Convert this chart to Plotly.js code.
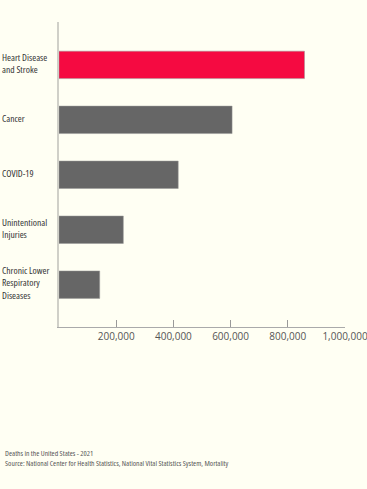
<!DOCTYPE html>
<html><head><meta charset="utf-8">
<script src="https://cdn.plot.ly/plotly-3.0.1.min.js"></script>
<style>html,body{margin:0;padding:0;background:#fffff3;}
.annotation-text{font-stretch:condensed !important;}</style>
</head><body><div id="chart" style="width:367px;height:489px;"></div>
<script>
const categories = ["Heart Disease<br>and Stroke", "Cancer", "COVID-19", "Unintentional<br>Injuries", "Chronic Lower<br>Respiratory<br>Diseases"];
const deaths = [858437, 605213, 416893, 224935, 142342];
const barColors = ["#f50a41", "#666666", "#666666", "#666666", "#666666"];
const tickVals = [200000, 400000, 600000, 800000, 1000000];
const tickText = ["200,000", "400,000", "600,000", "800,000", "1,000,000"];
const footer = "Deaths in the United States - 2021<br>Source: National Center for Health Statistics, National Vital Statistics System, Mortality";

const labelFont = {family: "Open Sans", size: 9.6, color: "#333"};
const annotations = categories.map((c, i) => ({
  xref: "paper", yref: "y", x: -59/286, y: i, yshift: 1.5, text: c, showarrow: false,
  xanchor: "left", yanchor: "middle", align: "left", font: labelFont
}));
annotations.push({
  xref: "paper", yref: "paper", x: -56/286, y: -(457.5-327)/305, text: footer, showarrow: false,
  xanchor: "left", yanchor: "middle", align: "left",
  font: {family: "Open Sans", size: 7.6, color: "#555"}
});

Plotly.newPlot("chart", [{
  type: "bar", orientation: "h", y: categories.map((c, i) => i), x: deaths,
  width: 0.5,
  marker: {color: barColors, line: {color: "#999", width: 0.5}},
  hoverinfo: "none"
}], {
  width: 367, height: 489,
  margin: {l: 59, r: 22, t: 22, b: 162},
  paper_bgcolor: "#fffff3", plot_bgcolor: "#fffff3",
  showlegend: false,
  xaxis: {range: [0, 1000000], tickvals: tickVals, ticktext: tickText,
    ticks: "inside", ticklen: 7, tickcolor: "#999", tickwidth: 1,
    ticklabeloverflow: "allow",
    showgrid: false, zeroline: false, showline: true, linecolor: "#aaa", linewidth: 1,
    tickfont: {family: "Open Sans", size: 10, color: "#555"}, fixedrange: true},
  yaxis: {range: [4.77, -0.78], showticklabels: false, ticks: "", showgrid: false,
    zeroline: false, showline: true, linecolor: "#d0d0c8", linewidth: 2, fixedrange: true},
  annotations: annotations
}, {displayModeBar: false, staticPlot: true}).then(gd => {
  gd.querySelectorAll('.annotation-text').forEach(el => { el.style.fontStretch = 'condensed'; });
});
</script></body></html>
